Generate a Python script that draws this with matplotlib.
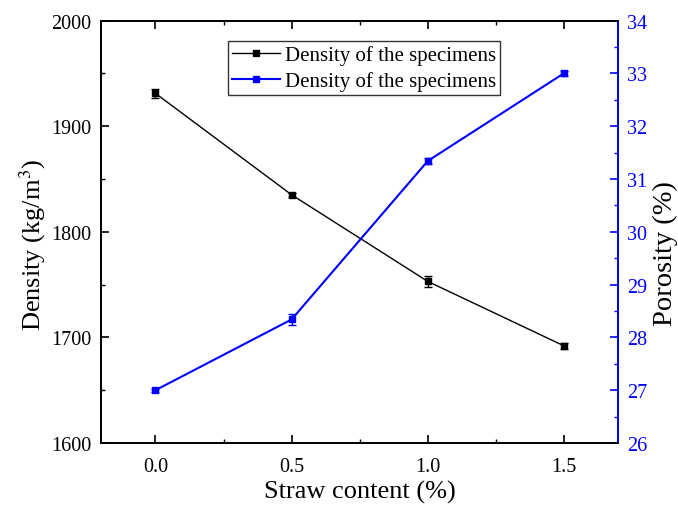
import matplotlib
matplotlib.use("Agg")
import matplotlib.pyplot as plt
from matplotlib.ticker import MultipleLocator, FormatStrFormatter
from matplotlib.lines import Line2D

plt.rcParams['font.family'] = ['Liberation Serif', 'DejaVu Serif']
plt.rcParams['mathtext.fontset'] = 'stix'

straw = [0.0, 0.5, 1.0, 1.5]
density = [1931, 1835, 1753, 1692]
density_err = [4, 2, 5, 3]
porosity = [27.0, 28.34, 31.34, 33.0]
porosity_err = [0.03, 0.1, 0.05, 0.05]
legend_labels = ['Density of the specimens', 'Density of the specimens']

blue = '#0000ff'

fig = plt.figure(figsize=(6.78, 5.06), dpi=100)
ax = fig.add_axes([0.149, 0.1225, 0.763, 0.835])
ax2 = ax.twinx()

ax.errorbar(straw, density, yerr=density_err, color='black', lw=1.0,
            marker='s', ms=5, capsize=3, elinewidth=1.0)
ax2.errorbar(straw, porosity, yerr=porosity_err, color=blue, lw=1.5,
             marker='s', ms=5, capsize=3, elinewidth=1.0)

ax.set_xlim(-0.2, 1.7)
ax.set_ylim(1600, 2000)
ax2.set_ylim(26, 34)

ax.xaxis.set_major_locator(MultipleLocator(0.5))
ax.xaxis.set_minor_locator(MultipleLocator(0.25))
ax.yaxis.set_major_locator(MultipleLocator(100))
ax.yaxis.set_minor_locator(MultipleLocator(50))
ax2.yaxis.set_major_locator(MultipleLocator(1))
ax2.yaxis.set_minor_locator(MultipleLocator(0.5))
ax.xaxis.set_major_formatter(FormatStrFormatter('%.1f'))

ax.tick_params(axis='x', which='both', direction='in', top=True, labelsize=14.5, pad=10)
ax.tick_params(axis='y', which='both', direction='in', labelsize=14.5, pad=7)
ax.tick_params(which='major', length=6, width=1.2)
ax.tick_params(which='minor', length=3, width=1.0)
ax2.tick_params(axis='y', which='both', direction='in', colors=blue, labelsize=14.5, pad=6)
ax2.tick_params(which='major', length=6, width=1.2)
ax2.tick_params(which='minor', length=3, width=1.0)

for s in ax.spines.values():
    s.set_linewidth(1.3)
for s in ax2.spines.values():
    s.set_linewidth(1.3)
ax2.spines['right'].set_color(blue)

ax.set_xlabel('Straw content (%)', fontsize=19, labelpad=3)
ax.set_ylabel('Density (kg/m$^3$)', fontsize=19, labelpad=2)
ax2.set_ylabel('Porosity (%)', fontsize=20.5, labelpad=4)
ax.yaxis.label.set_y(0.47)
ax2.yaxis.label.set_y(0.45)

handles = [Line2D([], [], color='black', lw=1.0, marker='s', ms=5),
           Line2D([], [], color=blue, lw=1.5, marker='s', ms=5)]
leg = ax.legend(handles, legend_labels,
                loc='upper left', bbox_to_anchor=(0.245, 0.952), fontsize=15,
                frameon=True, fancybox=False, edgecolor='black',
                handlelength=2.3, borderpad=0.2, labelspacing=0.3,
                handletextpad=0.25, borderaxespad=0)
leg.get_frame().set_linewidth(1.0)

fig.savefig('out.png', dpi=100)
